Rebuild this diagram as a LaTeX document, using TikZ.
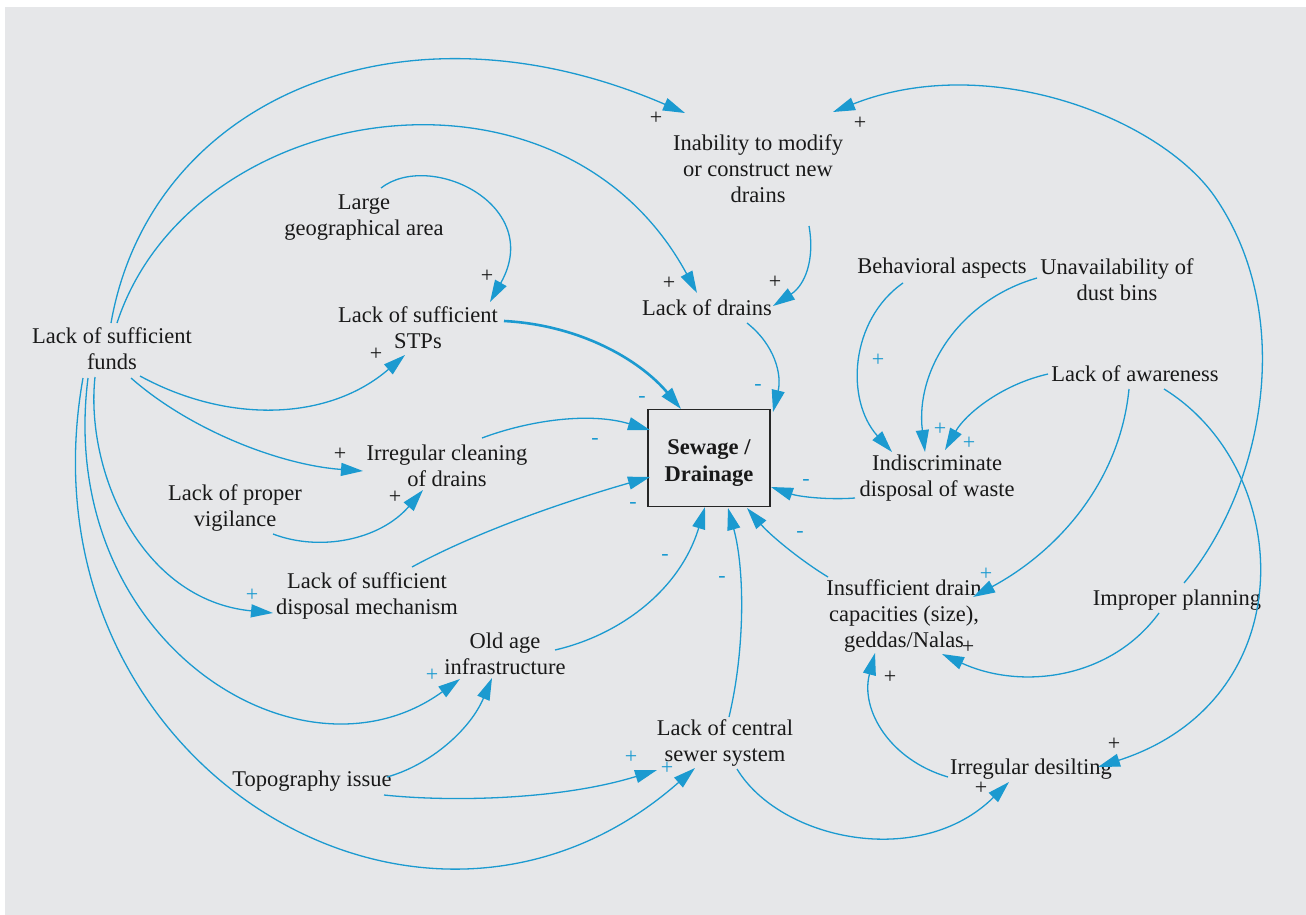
\documentclass[tikz,border=0pt]{standalone}
\usepackage{fontspec}
\setmainfont{LiberationSerif}[Extension=.ttf,UprightFont=*-Regular,BoldFont=*-Bold,ItalicFont=*-Italic,BoldItalicFont=*-BoldItalic]
\usetikzlibrary{arrows.meta,calc}
\definecolor{linkblue}{RGB}{27,154,208}
\definecolor{paper}{RGB}{230,231,233}
\definecolor{ink}{RGB}{25,25,25}
\begin{document}
\begin{tikzpicture}[x=1pt,y=-1pt,
  var/.style={align=center,text=ink,font=\fontsize{22.5}{26}\selectfont,inner sep=0pt},
  link/.style={draw=linkblue,line width=1.3pt,-{Triangle[length=22pt,width=13pt]}},
  strong/.style={link,line width=2.6pt},
  plus/.style={text=ink,font=\fontsize{22}{24}\selectfont,inner sep=0pt},
  bplus/.style={text=linkblue,font=\fontsize{22}{24}\selectfont,inner sep=0pt},
  bminus/.style={text=linkblue,font=\fontsize{22}{24}\selectfont,inner sep=0pt},
]
\useasboundingbox (0,0) rectangle (1306,915);
\fill[white] (0,0) rectangle (1306,915);
\fill[paper] (5,7) rectangle (1306,915);

% variables
\node[var] (inab)    at (758,169)  {Inability to modify\\or construct new\\drains};
\node[var] (large)   at (364,218)  {Large\\geographical area};
\node[var] (stp)     at (418,328)  {Lack of sufficient\\STPs};
\node[var] (ldr)     at (707,308)  {Lack of drains};
\node[var] (beh)     at (942,268)  {Behavioral aspects};
\node[var] (dust)    at (1117,280) {Unavailability of\\dust bins};
\node[var] (aware)   at (1135,374) {Lack of awareness};
\node[var] (funds)   at (112,349)  {Lack of sufficient\\funds};
\node[var] (clean)   at (447,466)  {Irregular cleaning\\of drains};
\node[draw=black!85,line width=1.8pt,minimum width=122pt,minimum height=97pt,inner sep=0pt]
      (sew) at (709,458) {};
\node[var,font=\fontsize{22.5}{27}\selectfont\bfseries] (sewtext) at (709,463) {Sewage /\\Drainage};
\node[var] (indis)   at (937,478)  {Indiscriminate\\disposal of waste};
\node[var] (vig)     at (235,508)  {Lack of proper\\vigilance};
\node[var] (disp)    at (367,596)  {Lack of sufficient\\disposal mechanism};
\node[var] (old)     at (505,654)  {Old age\\infrastructure};
\node[var] (insuf)   at (904,616)  {Insufficient drain\\capacities (size),\\geddas/Nalas};
\node[var] (plan)    at (1177,600) {Improper planning};
\node[var] (central) at (725,743)  {Lack of central\\sewer system};
\node[var] (topo)    at (312,781)  {Topography issue};
\node[var] (desilt)  at (1031,769) {Irregular desilting};

% causal links
\draw[link] ($(funds)+(-1,-26)$) .. controls (150,100) and (400,-10) .. ($(inab)+(-73,-56)$);
\draw[link] ($(funds)+(5,-26)$) .. controls (190,100) and (560,40) .. ($(ldr)+(-10,-15)$);
\draw[link] ($(large)+(17,-30)$) .. controls (430,150) and (545,205) .. ($(stp)+(72,-26)$);
\draw[link] ($(inab)+(51,57)$) .. controls (815,260) and (805,285) .. ($(ldr)+(66,-2)$);
\draw[link] ($(plan)+(7,-17)$) .. controls (1262,490) and (1297,320) .. (1217,200)
             .. controls (1165,120) and (990,50) .. ($(inab)+(75,-57)$);
\draw[strong] ($(stp)+(86,-7)$) .. controls (580,325) and (640,360) .. ($(sew)+(-28,-49)$);
\draw[link] ($(ldr)+(40,15)$) .. controls (775,345) and (782,375) .. ($(sew)+(64,-46)$);
\draw[link] ($(funds)+(28,27)$) .. controls (230,425) and (330,420) .. ($(stp)+(-13,27)$);
\draw[link] ($(funds)+(19,29)$) .. controls (190,430) and (280,465) .. ($(clean)+(-84,5)$);
\draw[link] ($(clean)+(35,-28)$) .. controls (530,420) and (590,412) .. ($(sew)+(-59,-28)$);
\draw[link] ($(vig)+(38,26)$) .. controls (320,552) and (380,540) .. ($(clean)+(-24,24)$);
\draw[link] ($(disp)+(45,-29)$) .. controls (480,530) and (570,500) .. ($(sew)+(-59,19)$);
\draw[link] ($(funds)+(-17,28)$) .. controls (85,470) and (140,600) .. ($(disp)+(-94,17)$);
\draw[link] ($(funds)+(-24,29)$) .. controls (55,640) and (300,795) .. ($(old)+(-45,25)$);
\draw[link] ($(funds)+(-29,29)$) .. controls (15,760) and (420,1010) .. ($(central)+(-30,25)$);
\draw[link] ($(old)+(50,-4)$) .. controls (620,635) and (680,590) .. ($(sew)+(-4,49)$);
\draw[link] ($(topo)+(75,-4)$) .. controls (430,765) and (470,730) .. ($(old)+(-13,24)$);
\draw[link] ($(topo)+(72,14)$) .. controls (450,802) and (560,800) .. ($(central)+(-68,27)$);
\draw[link] ($(central)+(4,-26)$) .. controls (745,650) and (745,570) .. ($(sew)+(19,50)$);
\draw[link] ($(central)+(12,26)$) .. controls (780,840) and (920,870) .. ($(desilt)+(-22,13)$);
\draw[link] ($(desilt)+(-83,8)$) .. controls (890,760) and (860,710) .. ($(insuf)+(-29,37)$);
\draw[link] ($(plan)+(-18,13)$) .. controls (1110,680) and (1020,690) .. ($(insuf)+(38,38)$);
\draw[link] ($(insuf)+(-76,-39)$) .. controls (800,560) and (770,535) .. ($(sew)+(38,50)$);
\draw[link] ($(indis)+(-82,20)$) .. controls (830,500) and (800,497) .. ($(sew)+(62,29)$);
\draw[link] ($(beh)+(-39,15)$) .. controls (850,320) and (845,400) .. ($(indis)+(-45,-26)$);
\draw[link] ($(dust)+(-80,-2)$) .. controls (960,300) and (915,370) .. ($(indis)+(-12,-26)$);
\draw[link] ($(aware)+(-87,0)$) .. controls (1000,385) and (965,415) .. ($(indis)+(8,-28)$);
\draw[link] ($(aware)+(-6,15)$) .. controls (1120,480) and (1060,550) .. ($(insuf)+(69,-19)$);
\draw[link] ($(aware)+(29,15)$) .. controls (1295,470) and (1305,700) .. ($(desilt)+(67,-2)$);

% polarity signs
\node[plus] (s1)  at (656,118) {+};
\node[plus] (s2)  at (860,123) {+};
\node[plus] (s3)  at (487,276) {+};
\node[plus] (s4)  at (669,283) {+};
\node[plus] (s5)  at (775,282) {+};
\node[plus] (s6)  at (376,354) {+};
\node[plus] (s7)  at (340,454) {+};
\node[plus] (s8)  at (395,497) {+};
\node[plus] (s9)  at (890,677) {+};
\node[plus] (s10) at (968,647) {+};
\node[plus] (s11) at (981,788) {+};
\node[plus] (s12) at (1114,744) {+};
\node[bplus] (b1) at (878,360) {+};
\node[bplus] (b2) at (940,429) {+};
\node[bplus] (b3) at (969,443) {+};
\node[bplus] (b4) at (986,574) {+};
\node[bplus] (b5) at (252,595) {+};
\node[bplus] (b6) at (432,675) {+};
\node[bplus] (b7) at (631,757) {+};
\node[bplus] (b8) at (667,768) {+};
\node[bminus] (m1) at (642,399) {-};
\node[bminus] (m2) at (758,387) {-};
\node[bminus] (m3) at (595,441) {-};
\node[bminus] (m4) at (806,482) {-};
\node[bminus] (m5) at (633,505) {-};
\node[bminus] (m6) at (665,557) {-};
\node[bminus] (m7) at (722,579) {-};
\node[bminus] (m8) at (800,534) {-};
\end{tikzpicture}
\end{document}
